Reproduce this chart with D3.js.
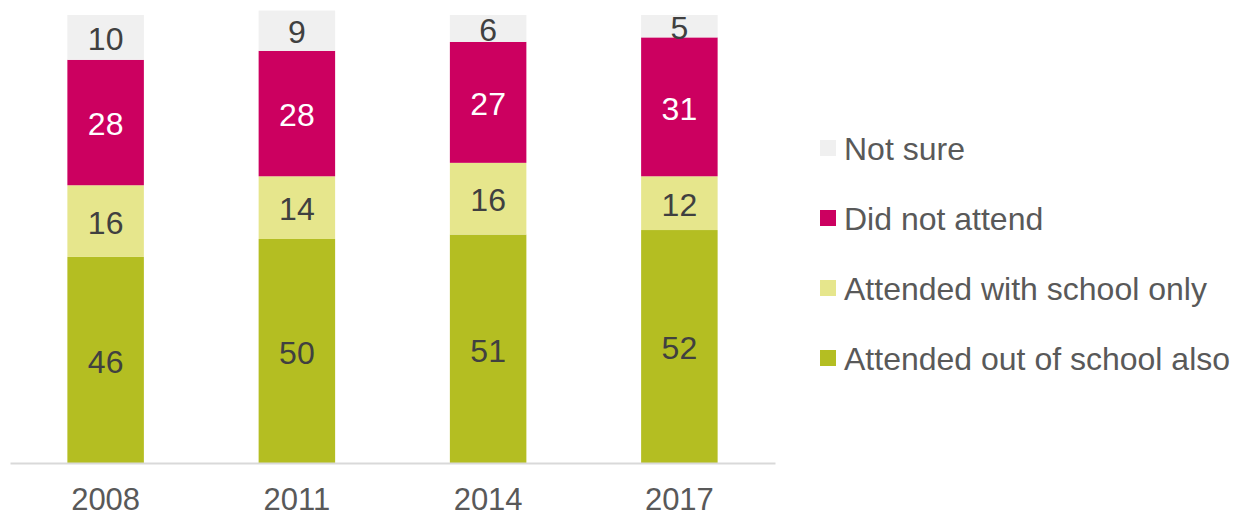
<!DOCTYPE html>
<html>
<head>
<meta charset="utf-8">
<script src="https://cdn.jsdelivr.net/npm/d3@7"></script>
<style>
  body { margin: 0; background: #fff; }
  svg { display: block; font-family: Arial, "Liberation Sans", sans-serif; }
</style>
</head>
<body>
<svg id="chart" width="1241" height="515"></svg>
<script>
const years = ["2008", "2011", "2014", "2017"];
const outOfSchool = [46, 50, 51, 52];
const schoolOnly = [16, 14, 16, 12];
const didNotAttend = [28, 28, 27, 31];
const notSure = [10, 9, 6, 5];

const seriesNames = ["Attended out of school also", "Attended with school only", "Did not attend", "Not sure"];
const seriesColors = ["#b4be22", "#e6e68c", "#cc0060", "#f0f0f0"];
const labelColors = ["#404040", "#404040", "#ffffff", "#404040"];

const rows = years.map((y, i) => ({
  year: y,
  s0: outOfSchool[i],
  s1: schoolOnly[i],
  s2: didNotAttend[i],
  s3: notSure[i]
}));

const svg = d3.select("#chart");

const x = d3.scaleBand()
  .domain(years)
  .range([10, 775])
  .paddingInner(0.6)
  .paddingOuter(0.3);

const y = d3.scaleLinear()
  .domain([0, 100])
  .range([463, 15]);

const stack = d3.stack().keys(["s0", "s1", "s2", "s3"]);
const layers = stack(rows);

const layer = svg.selectAll("g.layer")
  .data(layers)
  .join("g")
  .attr("class", "layer")
  .attr("fill", (d, i) => seriesColors[i]);

layer.selectAll("rect")
  .data(d => d)
  .join("rect")
  .attr("x", d => x(d.data.year))
  .attr("width", x.bandwidth())
  .attr("y", d => y(d[1]))
  .attr("height", d => y(d[0]) - y(d[1]));

// value labels, centred in each segment
layers.forEach((l, i) => {
  svg.append("g")
    .selectAll("text")
    .data(l)
    .join("text")
    .attr("x", d => x(d.data.year) + x.bandwidth() / 2)
    .attr("y", d => (y(d[0]) + y(d[1])) / 2)
    .attr("dy", "0.4em")
    .attr("text-anchor", "middle")
    .style("font-size", "32px")
    .style("fill", labelColors[i])
    .text(d => d[1] - d[0]);
});

// x axis
const xAxis = svg.append("g")
  .attr("transform", "translate(0,463)")
  .call(d3.axisBottom(x).tickSize(0).tickPadding(25));
xAxis.select(".domain").attr("stroke", "#d9d9d9").attr("stroke-width", 2);
xAxis.selectAll("text")
  .style("font-size", "31px")
  .style("font-family", "Arial, 'Liberation Sans', sans-serif")
  .style("fill", "#595959");

// legend
const legendOrder = [3, 2, 1, 0];
const legend = svg.append("g")
  .selectAll("g")
  .data(legendOrder)
  .join("g")
  .attr("transform", (d, i) => `translate(820, ${148 + i * 70})`);

legend.append("rect")
  .attr("x", 0)
  .attr("y", -8)
  .attr("width", 16)
  .attr("height", 16)
  .attr("fill", d => seriesColors[d]);

legend.append("text")
  .attr("x", 24)
  .attr("y", 0)
  .attr("dy", "0.36em")
  .style("font-size", "32px")
  .style("fill", "#595959")
  .text(d => seriesNames[d]);
</script>
</body>
</html>
